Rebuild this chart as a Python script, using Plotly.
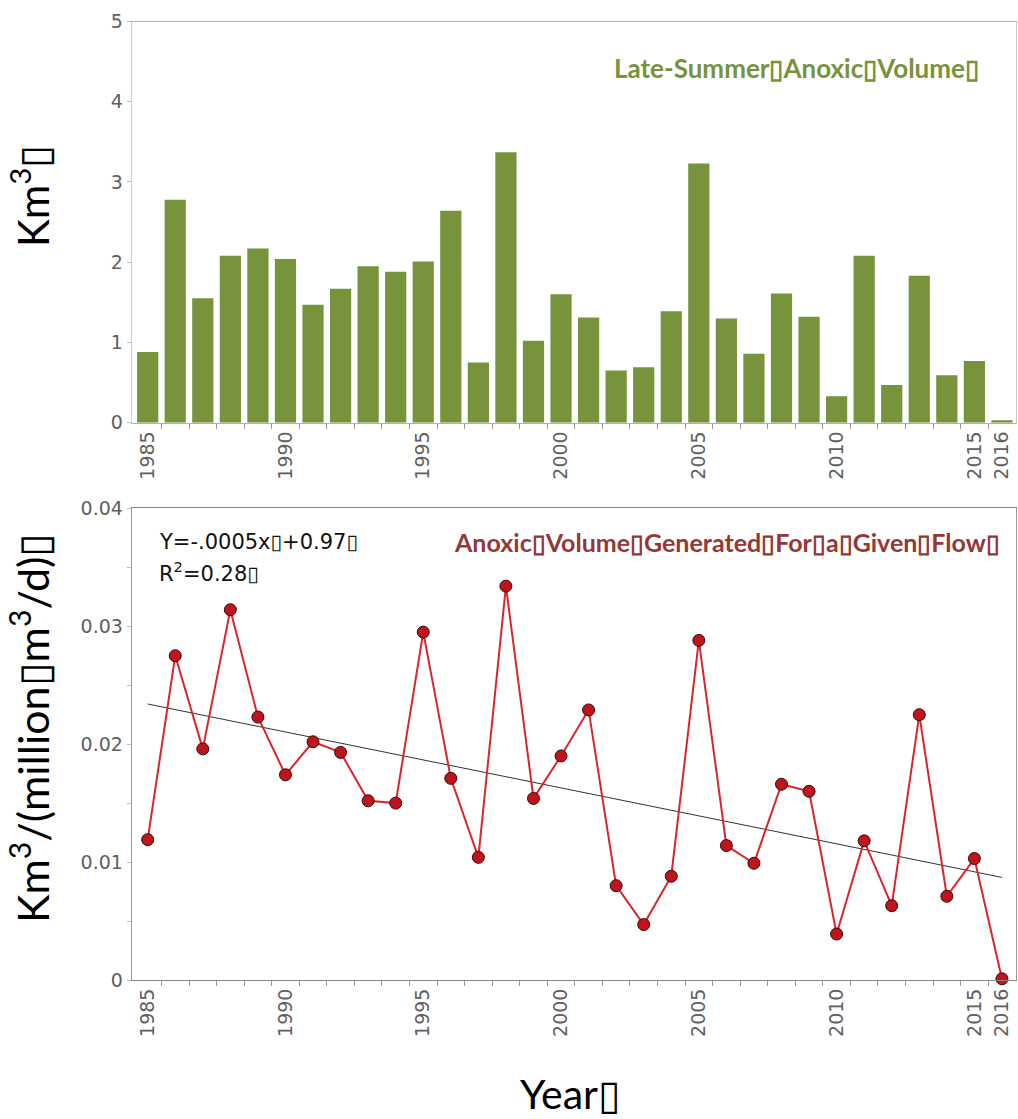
import numpy as np
import plotly.graph_objects as go

years = list(range(1985, 2017))
anoxic_volume = [0.88, 2.78, 1.55, 2.08, 2.17, 2.04, 1.47, 1.67, 1.95, 1.88,
                 2.01, 2.64, 0.75, 3.37, 1.02, 1.60, 1.31, 0.65, 0.69, 1.39,
                 3.23, 1.30, 0.86, 1.61, 1.32, 0.33, 2.08, 0.47, 1.83, 0.59,
                 0.77, 0.03]
volume_per_flow = [0.0119, 0.0275, 0.0196, 0.0314, 0.0223, 0.0174, 0.0202, 0.0193,
                   0.0152, 0.0150, 0.0295, 0.0171, 0.0104, 0.0334, 0.0154, 0.0190,
                   0.0229, 0.0080, 0.0047, 0.0088, 0.0288, 0.0114, 0.0099, 0.0166,
                   0.0160, 0.0039, 0.0118, 0.0063, 0.0225, 0.0071, 0.0103, 0.0001]
year_tick_labels = [1985, 1990, 1995, 2000, 2005, 2010, 2015, 2016]
top_y_ticks = [0, 1, 2, 3, 4, 5]
bottom_y_ticks = [0, 0.01, 0.02, 0.03, 0.04]
bottom_y_tick_text = ["0", "0.01", "0.02", "0.03", "0.04"]

B = "\u25af"
title_top = f"Late-Summer{B}Anoxic{B}Volume{B}"
title_bottom = f"Anoxic{B}Volume{B}Generated{B}For{B}a{B}Given{B}Flow{B}"
eq_text = f"Y=-.0005x{B}+0.97{B}"
r2_text = f"R<sup>2</sup>=0.28{B}"
ytitle_top = f"Km<sup>3</sup>{B}"
ytitle_bottom = f"Km<sup>3</sup>/(million{B}m<sup>3</sup>/d){B}"
xtitle = f"Year{B}"

W, H = 1018, 1119


def px_x(p):
    return p / W


def px_y(p):
    return 1 - p / H


# regression line from data
coef = np.polyfit(years, volume_per_flow, 1)
trend_x = [years[0], years[-1]]
trend_y = list(np.polyval(coef, trend_x))

fig = go.Figure()
fig.add_trace(go.Bar(x=years, y=anoxic_volume, width=0.77,
                     marker=dict(color="#77933C", line=dict(width=0)),
                     xaxis="x", yaxis="y", showlegend=False))
fig.add_trace(go.Scatter(x=trend_x, y=trend_y, mode="lines",
                         line=dict(color="#333333", width=1),
                         xaxis="x2", yaxis="y2", showlegend=False))
fig.add_trace(go.Scatter(x=years, y=volume_per_flow, mode="lines+markers",
                         line=dict(color="#D9262E", width=2),
                         marker=dict(size=12, color="#C0141C",
                                     line=dict(color="#3a0808", width=1)),
                         cliponaxis=False,
                         xaxis="x2", yaxis="y2", showlegend=False))

tickfont = dict(family="DejaVu Sans", size=19, color="#606060")
xr = [1984.42, 2016.51]
xdom = [px_x(131.7), px_x(1016)]
minor_x = dict(tickvals=[y + 0.5 for y in years[:-1]], ticks="outside",
               ticklen=5, tickcolor="#999999")

common_x = dict(range=xr, domain=xdom, tickvals=year_tick_labels,
                tickangle=-90, ticks="", tickfont=tickfont, showgrid=False,
                zeroline=False, showline=True, mirror=True, minor=minor_x,
                automargin=False)

fig.update_layout(
    width=W, height=H,
    margin=dict(l=0, r=0, t=0, b=0),
    paper_bgcolor="white", plot_bgcolor="white",
    xaxis=dict(**common_x, linecolor="#b0b0b0", anchor="y"),
    yaxis=dict(range=[0, 5], domain=[px_y(422.7), px_y(21.5)], tickvals=top_y_ticks,
               ticks="outside", ticklen=4, tickcolor="#bbbbbb",
               tickfont=tickfont, showgrid=False, zeroline=False,
               showline=True, linecolor="#cccccc", mirror=True, anchor="x",
               automargin=False),
    xaxis2=dict(**common_x, linecolor="#888888", anchor="y2"),
    yaxis2=dict(range=[0, 0.04], domain=[px_y(980), px_y(508.3)],
                tickvals=bottom_y_ticks, ticktext=bottom_y_tick_text,
                ticks="outside", ticklen=4, tickcolor="#bbbbbb",
                tickfont=tickfont, showgrid=False, zeroline=False,
                showline=True, linecolor="#999999", mirror=True, anchor="x2",
                automargin=False,
                minor=dict(ticks="outside", ticklen=4, tickcolor="#bbbbbb",
                           dtick=0.005, tick0=0)),
)

ann_font = "Lato"
fig.add_annotation(text=f"<b>{title_top}</b>", xref="paper", yref="paper",
                   x=px_x(981), y=px_y(68), xanchor="right", yanchor="middle",
                   showarrow=False, font=dict(family=ann_font, size=26, color="#77933C"))
fig.add_annotation(text=f"<b>{title_bottom}</b>", xref="paper", yref="paper",
                   x=px_x(1002), y=px_y(542), xanchor="right", yanchor="middle",
                   showarrow=False, font=dict(family=ann_font, size=25, color="#953735"))
fig.add_annotation(text=eq_text, xref="paper", yref="paper",
                   x=px_x(157), y=px_y(542), xanchor="left", yanchor="middle",
                   showarrow=False, font=dict(family="DejaVu Sans", size=21, color="#111111"))
fig.add_annotation(text=r2_text, xref="paper", yref="paper",
                   x=px_x(157), y=px_y(572), xanchor="left", yanchor="middle",
                   showarrow=False, font=dict(family="DejaVu Sans", size=21, color="#111111"))
fig.add_annotation(text=ytitle_top, xref="paper", yref="paper",
                   x=px_x(30), y=px_y(196), xanchor="center", yanchor="middle",
                   textangle=-90, showarrow=False,
                   font=dict(family=ann_font, size=42, color="#000000"))
fig.add_annotation(text=ytitle_bottom, xref="paper", yref="paper",
                   x=px_x(29), y=px_y(728), xanchor="center", yanchor="middle",
                   textangle=-90, showarrow=False,
                   font=dict(family=ann_font, size=43, color="#000000"))
fig.add_annotation(text=xtitle, xref="paper", yref="paper",
                   x=px_x(570), y=px_y(1093), xanchor="center", yanchor="middle",
                   showarrow=False, font=dict(family=ann_font, size=41, color="#000000"))

fig.write_html("out.html",
               config={"displayModeBar": False},
               post_script="document.body.style.margin='0px';"
                           "document.body.style.overflow='hidden';")
